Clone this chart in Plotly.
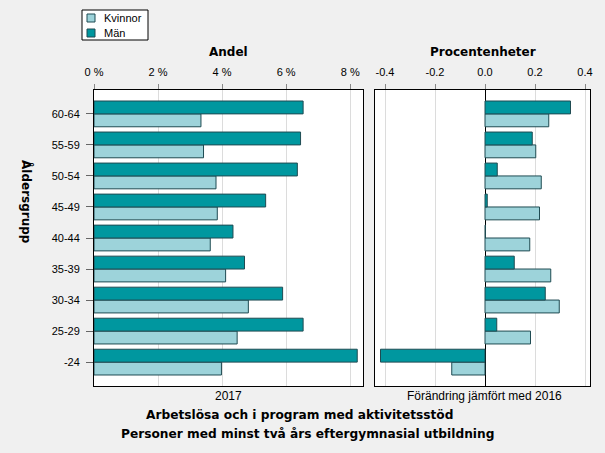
import plotly.graph_objects as go

categories = ["-24", "25-29", "30-34", "35-39", "40-44", "45-49", "50-54", "55-59", "60-64"]
man_share = [8.22, 6.53, 5.89, 4.70, 4.34, 5.36, 6.35, 6.45, 6.53]
kvinnor_share = [3.98, 4.47, 4.82, 4.11, 3.63, 3.85, 3.81, 3.42, 3.34]
man_change = [-0.418, 0.047, 0.241, 0.117, 0.002, 0.009, 0.049, 0.189, 0.342]
kvinnor_change = [-0.133, 0.182, 0.297, 0.263, 0.179, 0.218, 0.225, 0.203, 0.255]
series_names = ["Kvinnor", "Män"]

left_ticks = [0, 2, 4, 6, 8]
left_ticktext = ["0 %", "2 %", "4 %", "6 %", "8 %"]
right_ticks = [-0.4, -0.2, 0.0, 0.2, 0.4]
right_ticktext = ["-0.4", "-0.2", "0.0", "0.2", "0.4"]

DARK = "#00979f"
LIGHT = "#9dd3da"
EDGE = "#1f4b52"
FONT = "Liberation Sans, Arial, sans-serif"
BFONT = "DejaVu Sans, Verdana, sans-serif"
colors = [LIGHT, DARK]

fig = go.Figure()
for name, col, vals in zip(series_names, colors, [kvinnor_share, man_share]):
    fig.add_trace(go.Bar(y=categories, x=vals, orientation="h", name=name,
                         marker=dict(color=col, line=dict(color=EDGE, width=1)),
                         xaxis="x", yaxis="y", showlegend=False))
for name, col, vals in zip(series_names, colors, [kvinnor_change, man_change]):
    fig.add_trace(go.Bar(y=categories, x=vals, orientation="h", name=name,
                         marker=dict(color=col, line=dict(color=EDGE, width=1)),
                         xaxis="x2", yaxis="y2", showlegend=False))

L, R, T, B = 94, 15, 90, 67
W, H = 605, 453
pw = W - L - R
ph = H - T - B

def px_x(p):
    return (p - L) / pw

def px_y(p):
    return (H - B - p) / ph

axis_common = dict(showline=True, linecolor="black", linewidth=1, mirror=True,
                   tickfont=dict(size=11, color="black", family=FONT))

fig.update_layout(
    width=W, height=H,
    margin=dict(l=L, r=R, t=T, b=B),
    paper_bgcolor="#f0f0f0",
    plot_bgcolor="white",
    font=dict(family=FONT, size=11, color="black"),
    barmode="group",
    bargap=0.17,
    bargroupgap=0,
    showlegend=False,
    xaxis=dict(domain=[0, px_x(363)], range=[0, 8.4], side="top",
               tickvals=left_ticks, ticktext=left_ticktext,
               ticks="outside", ticklen=5, tickcolor="#888888", ticklabelstandoff=4,
               showgrid=True, gridcolor="#dcdcdc", zeroline=False, anchor="y",
               **axis_common),
    yaxis=dict(domain=[0, 1], categoryorder="array", categoryarray=categories,
               range=[-0.77, 8.77], ticks="outside", ticklen=7, tickcolor="#666666",
               ticklabelstandoff=4,
               showgrid=False, anchor="x", **axis_common),
    xaxis2=dict(domain=[px_x(375), 1], range=[-0.44, 0.42], side="top",
                tickvals=right_ticks, ticktext=right_ticktext,
                ticks="outside", ticklen=5, tickcolor="#888888", ticklabelstandoff=4,
                showgrid=True, gridcolor="#dcdcdc",
                zeroline=True, zerolinecolor="black", zerolinewidth=1, anchor="y2",
                **axis_common),
    yaxis2=dict(domain=[0, 1], categoryorder="array", categoryarray=categories,
                range=[-0.77, 8.77], showticklabels=False, ticks="",
                showgrid=False, anchor="x2", **axis_common),
)

def ann(text, xp, yp, size=11, bold=False, angle=0, family=FONT, xanchor="center"):
    fig.add_annotation(text=f"<b>{text}</b>" if bold else text,
                       x=px_x(xp), y=px_y(yp), xref="paper", yref="paper",
                       showarrow=False, textangle=angle,
                       font=dict(size=size, family=family, color="black"),
                       xanchor=xanchor, yanchor="middle")

def rect(x0, y0, x1, y1, fill, line, width=1):
    fig.add_shape(type="rect", xref="paper", yref="paper",
                  x0=px_x(x0), x1=px_x(x1), y0=px_y(y0), y1=px_y(y1),
                  fillcolor=fill, line=dict(color=line, width=width))

# legend box
rect(82, 10, 148, 40, "white", "black")
for i, (name, col) in enumerate(zip(series_names, colors)):
    yc = 18 + i * 15
    rect(87, yc - 4, 95, yc + 4, col, EDGE)
    ann(name, 102, yc, size=11, xanchor="left")

ann("Andel", 228.5, 52, size=12, bold=True, family=BFONT)
ann("Procentenheter", 482.5, 52, size=12, bold=True, family=BFONT)
ann("2017", 228.5, 396, size=12)
ann("Förändring jämfört med 2016", 484.5, 396, size=12)
ann("Arbetslösa och i program med aktivitetsstöd", 299, 415, size=12.2, bold=True, family=BFONT)
ann("Personer med minst två års eftergymnasial utbildning", 307.5, 434, size=12.2, bold=True, family=BFONT)
ann("Åldersgrupp", 27, 202, size=12, bold=True, angle=90, family=BFONT)

fig.write_html("out.html", config={"displayModeBar": False},
               post_script="document.body.style.margin='0';document.body.style.background='#f0f0f0';")
